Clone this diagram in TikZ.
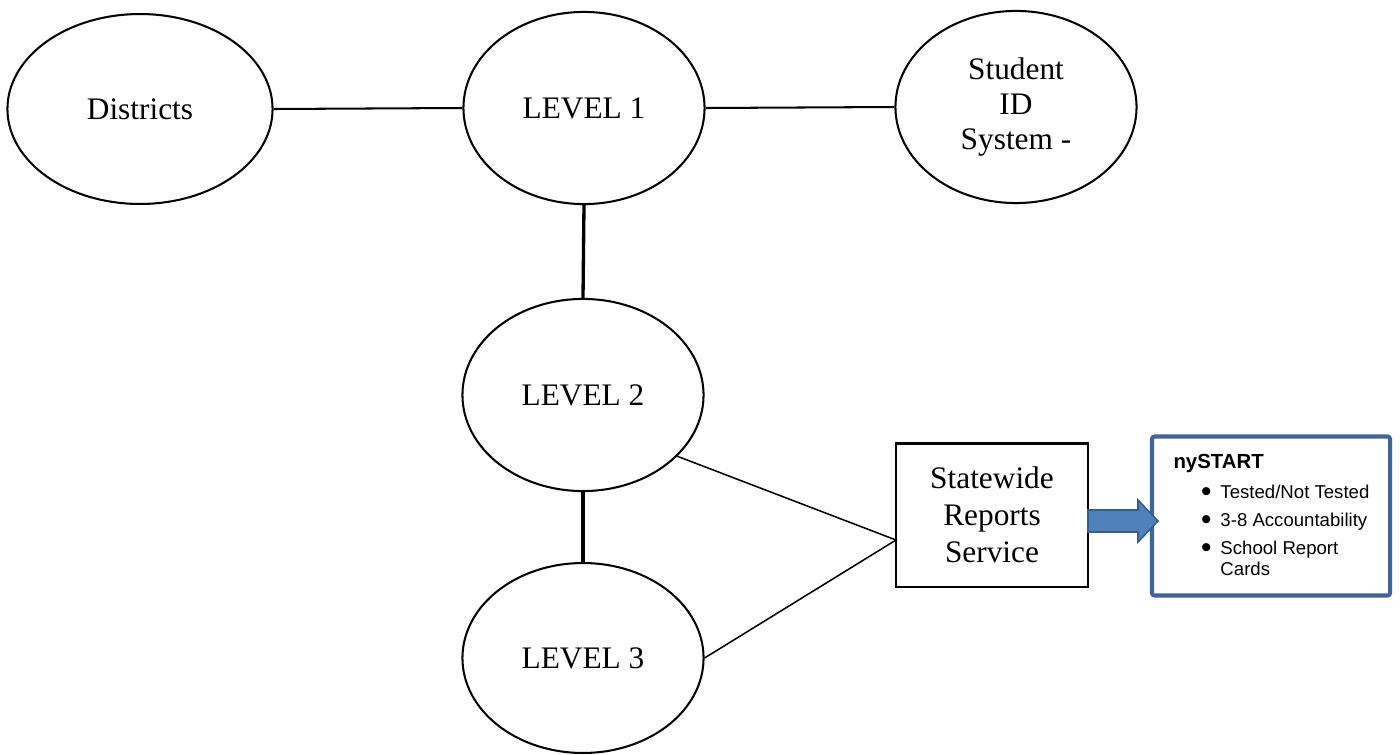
\documentclass[tikz,border=0pt]{standalone}
\usepackage{fontspec}
\setmainfont{Liberation Serif}
\newfontfamily\nyfont{Liberation Sans}
\usetikzlibrary{shapes.geometric}

\definecolor{nyblue}{RGB}{64,100,150}
\definecolor{arrowfill}{RGB}{79,129,189}
\definecolor{arrowedge}{RGB}{56,93,138}

\newcommand{\nybul}{\hspace*{0.38cm}\makebox[0.268cm][l]{\raisebox{-1pt}{\scalebox{1.6}{\textbullet}}}}

\begin{document}
\begin{tikzpicture}[
  x=0.0138cm, y=-0.0138cm,
  font=\fontsize{12.3}{14.5}\selectfont,
  oval/.style={draw=black, ellipse, line width=0.8pt, inner sep=0pt,
    minimum width=3.326cm, minimum height=2.65cm},
  link/.style={draw=black, line width=0.8pt},
  stem/.style={draw=black, line width=1.3pt},
  fatarrow/.style={draw=arrowedge, fill=arrowfill, line width=0.6pt}
]
  \useasboundingbox (0,0) rectangle (1400,754);

  \node[oval, minimum width=3.657cm, minimum height=2.62cm] (dist) at (140,109) {Districts};
  \node[oval] (lev1) at (584,108) {LEVEL 1};
  \node[oval, align=center, font=\fontsize{12.3}{13.7}\selectfont] (sid) at (1016,107)
    {Student\\ID\\System -};
  \node[oval] (lev2) at (583,395) {LEVEL 2};
  \node[oval, minimum height=2.62cm] (lev3) at (583,658) {LEVEL 3};

  \node[draw, line width=0.8pt, minimum width=2.65cm, minimum height=1.973cm,
    align=center] (srs) at (992,515) {Statewide\\Reports\\Service};

  \node[draw=nyblue, line width=1.6pt, rounded corners=1pt,
    minimum width=3.284cm, minimum height=2.194cm] (ny) at (1271,516) {};
  \node[anchor=north west, inner sep=0pt, align=left,
    font=\nyfont\fontsize{7.3}{8.2}\selectfont] (nytxt) at (1173,454)
    {{\bfseries\fontsize{8}{8.2}\selectfont nySTART}\\[3.6pt]
     \nybul Tested/Not Tested\\[2.8pt]
     \nybul 3-8 Accountability\\[2.8pt]
     \nybul School Report\\
     \hspace*{0.648cm}Cards};

  \draw[link] (dist.east) -- (lev1.west);
  \draw[link] (lev1.east) -- (sid.west);
  \draw[stem] (lev1.south) -- (lev2.north);
  \draw[stem] (lev2.south) -- (lev3.north);

  \coordinate (meet) at (896,540);
  \draw[draw=black, line width=0.6pt] (lev2.-33) -- (meet) -- (lev3.east);

  % block arrow into the nySTART box
  \coordinate (tail) at (1088,521);
  \draw[fatarrow] (tail) ++(0,-11) -- ++(50,0) -- ++(0,-10) -- ++(20,21)
    -- ++(-20,21) -- ++(0,-10) -- ++(-50,0) -- cycle;
\end{tikzpicture}
\end{document}
